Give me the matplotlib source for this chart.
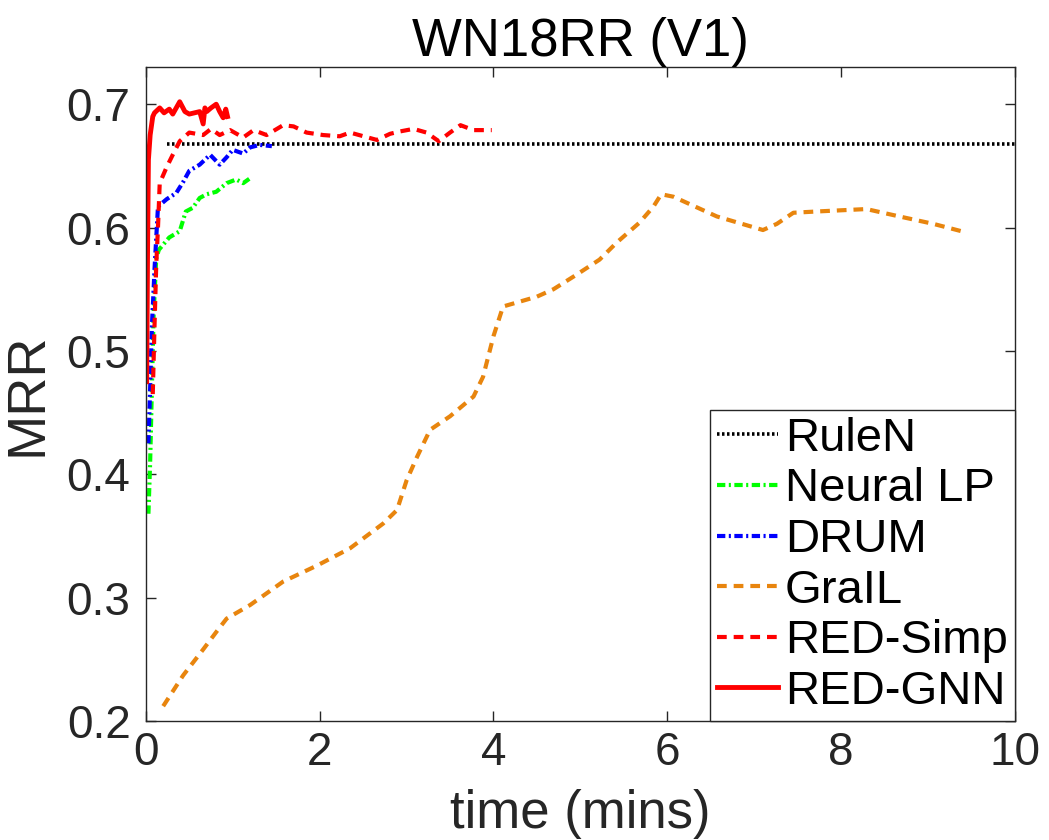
import matplotlib
matplotlib.use("Agg")
import matplotlib.pyplot as plt

plt.rcParams['font.family'] = ['Liberation Sans', 'DejaVu Sans']
plt.rcParams['lines.scale_dashes'] = False

# RuleN (flat line)
rulen_t = [0.24, 10.0]
rulen_y = [0.668, 0.668]

# Neural LP
nlp_t = [0.03, 0.05, 0.07, 0.09, 0.12, 0.15, 0.27, 0.39, 0.46, 0.54, 0.62,
         0.70, 0.81, 0.93, 1.04, 1.12, 1.22]
nlp_y = [0.368, 0.41, 0.47, 0.53, 0.575, 0.582, 0.592, 0.597, 0.613, 0.616,
         0.624, 0.627, 0.629, 0.636, 0.639, 0.636, 0.641]

# DRUM
drum_t = [0.03, 0.05, 0.07, 0.09, 0.10, 0.14, 0.24, 0.35, 0.43, 0.50, 0.62,
          0.74, 0.85, 0.93, 1.00, 1.12, 1.20, 1.31, 1.45]
drum_y = [0.425, 0.47, 0.52, 0.55, 0.566, 0.617, 0.623, 0.628, 0.637, 0.646,
          0.651, 0.659, 0.651, 0.657, 0.663, 0.660, 0.665, 0.667, 0.666]

# GraIL
grail_t = [0.20, 0.43, 0.66, 0.82, 0.93, 1.20, 1.58, 1.97, 2.35, 2.73, 2.89,
           3.00, 3.12, 3.27, 3.50, 3.77, 3.88, 4.00, 4.11, 4.50, 4.69, 4.96,
           5.22, 5.42, 5.68, 5.84, 5.93, 6.07, 6.57, 7.10, 7.26, 7.45, 7.71,
           8.29, 8.67, 9.06, 9.44]
grail_y = [0.212, 0.237, 0.258, 0.273, 0.283, 0.294, 0.313, 0.326, 0.340,
           0.360, 0.371, 0.395, 0.414, 0.436, 0.447, 0.463, 0.479, 0.512,
           0.536, 0.544, 0.550, 0.562, 0.574, 0.588, 0.604, 0.617, 0.627,
           0.625, 0.609, 0.598, 0.603, 0.612, 0.613, 0.615, 0.609, 0.603,
           0.596]

# RED-Simp
simp_t = [0.08, 0.10, 0.12, 0.14, 0.16, 0.24, 0.31, 0.39, 0.50, 0.66, 0.75,
          0.85, 0.97, 1.12, 1.24, 1.39, 1.58, 1.70, 1.85, 2.04, 2.23, 2.35,
          2.66, 2.81, 2.93, 3.08, 3.23, 3.37, 3.50, 3.62, 3.77, 3.98]
simp_y = [0.465, 0.52, 0.57, 0.60, 0.636, 0.649, 0.659, 0.670, 0.677, 0.675,
          0.680, 0.675, 0.679, 0.673, 0.679, 0.675, 0.683, 0.682, 0.677,
          0.675, 0.674, 0.677, 0.671, 0.676, 0.678, 0.680, 0.677, 0.670,
          0.677, 0.683, 0.679, 0.679]

# RED-GNN
gnn_t = [0.01, 0.02, 0.03, 0.05, 0.08, 0.10, 0.16, 0.21, 0.27, 0.31, 0.35,
         0.39, 0.45, 0.50, 0.56, 0.62, 0.66, 0.68, 0.70, 0.75, 0.81, 0.85,
         0.89, 0.92, 0.94]
gnn_y = [0.475, 0.58, 0.655, 0.675, 0.690, 0.693, 0.697, 0.693, 0.696,
         0.692, 0.697, 0.702, 0.694, 0.692, 0.693, 0.694, 0.684, 0.697,
         0.694, 0.697, 0.700, 0.694, 0.689, 0.696, 0.690]

fig = plt.figure(figsize=(10.49, 8.4), dpi=100)
ax = fig.add_axes([0.139, 0.1417, 0.8286, 0.7783])

ax.plot(rulen_t, rulen_y, color='black', linestyle=(0, (1.8, 1.8)), lw=2.6, label='RuleN')
ax.plot(nlp_t, nlp_y, color='#00ff00', linestyle=(0, (6, 2.5, 1.5, 2.5)), lw=3, label='Neural LP')
ax.plot(drum_t, drum_y, color='#0000ff', linestyle=(0, (6, 2.5, 1.5, 2.5)), lw=3, label='DRUM')
ax.plot(grail_t, grail_y, color='#e8850e', linestyle=(0, (7, 5)), lw=3, label='GraIL')
ax.plot(simp_t, simp_y, color='#ff0000', linestyle=(0, (7, 5)), lw=3, label='RED-Simp')
ax.plot(gnn_t, gnn_y, color='#ff0000', linestyle='-', lw=3.5, label='RED-GNN')

ax.set_xlim(0, 10)
ax.set_ylim(0.2, 0.73)
ax.set_xticks([0, 2, 4, 6, 8, 10])
ax.set_yticks([0.2, 0.3, 0.4, 0.5, 0.6, 0.7])
ax.set_yticklabels(['0.2', '0.3', '0.4', '0.5', '0.6', '0.7'])

for s in ax.spines.values():
    s.set_color('#262626')
    s.set_linewidth(1.0)
ax.tick_params(direction='in', length=7, width=1, color='#262626',
               labelcolor='#262626', labelsize=33, top=True, right=True)
ax.tick_params(axis='x', pad=7)
ax.tick_params(axis='y', pad=11)

ax.set_xlabel('time (mins)', fontsize=38, color='#262626', labelpad=10)
ax.set_ylabel('MRR', fontsize=39, color='#262626', labelpad=10)
ax.set_title('WN18RR (V1)', fontsize=38, pad=8)

leg = ax.legend(loc='lower right', bbox_to_anchor=(1.0, 0.0), borderaxespad=0,
                fontsize=34, fancybox=False, framealpha=1, edgecolor='#262626',
                handlelength=1.29, handletextpad=0.15, labelspacing=0.14,
                borderpad=0.15)
leg.get_frame().set_linewidth(1.0)

fig.savefig('out.png', dpi=100)
